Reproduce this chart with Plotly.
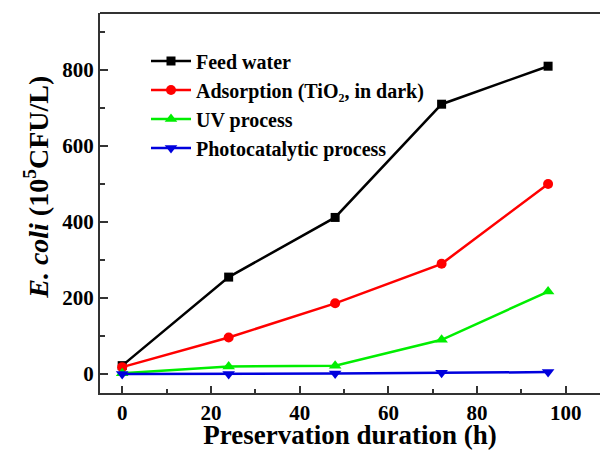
import plotly.graph_objects as go

hours = [0, 24, 48, 72, 96]
feed_water = [22, 255, 412, 710, 810]
adsorption = [18, 96, 186, 290, 500]
uv_process = [2, 20, 22, 90, 217]
photocatalytic = [0, 0, 1, 3, 5]

series = [
    ("Feed water", feed_water, "#000000", "square", 9),
    ("Adsorption (TiO₂, in dark)", adsorption, "#ff0000", "circle", 10),
    ("UV process", uv_process, "#00ee00", "triangle-up", 11),
    ("Photocatalytic process", photocatalytic, "#0000dd", "triangle-down", 11),
]

fig = go.Figure()
for name, vals, color, sym, size in series:
    fig.add_trace(go.Scatter(
        x=hours, y=vals, name="<b>" + name + "</b>", mode="lines+markers",
        line=dict(color=color, width=2.5),
        marker=dict(symbol=sym, size=size, color=color),
    ))

font_family = "Liberation Serif"
fig.update_layout(
    width=600, height=450,
    margin=dict(l=100, r=0, t=13, b=57),
    paper_bgcolor="white", plot_bgcolor="white",
    font=dict(family=font_family, color="black"),
    showlegend=True,
    legend=dict(
        x=0.092, y=0.925, xanchor="left", yanchor="top",
        font=dict(family=font_family, size=20, color="black", weight=700),
        bgcolor="rgba(0,0,0,0)", tracegroupgap=0, itemwidth=40,
    ),
    xaxis=dict(
        range=[-5, 107.7], tickmode="array", tickvals=[0, 20, 40, 60, 80, 100],
        ticks="inside", ticklen=7, tickwidth=1.5, tickcolor="#333",
        minor=dict(tickvals=[10, 30, 50, 70, 90], ticks="inside", ticklen=4, tickwidth=1.5, tickcolor="#333"),
        showline=True, linecolor="#333", linewidth=2, showgrid=False, zeroline=False,
        tickfont=dict(family=font_family, size=21, weight="bold"),
        title=dict(text="<b>Preservation duration (h)</b>", font=dict(family=font_family, size=27), standoff=6),
    ),
    yaxis=dict(
        range=[-50, 950], tickmode="array", tickvals=[0, 200, 400, 600, 800],
        ticks="inside", ticklen=8, tickwidth=1.5, tickcolor="#333",
        minor=dict(tickvals=[100, 300, 500, 700, 900], ticks="inside", ticklen=5, tickwidth=1.5, tickcolor="#333"),
        showline=True, linecolor="#333", linewidth=2, showgrid=False, zeroline=False,
        tickfont=dict(family=font_family, size=21, weight="bold"),
    ),
)
fig.add_annotation(
    text="<b><i>E. coli</i> (10<sup>5</sup>CFU/L)</b>", textangle=-90,
    xref="paper", yref="paper", x=-0.126, y=0.54, xanchor="center", yanchor="middle",
    showarrow=False, font=dict(family=font_family, size=28, color="black"),
)
fig.add_shape(type="line", xref="paper", yref="paper", x0=0, x1=1, y0=1, y1=1,
              line=dict(color="#333", width=2))

fig.write_html("out.html")
